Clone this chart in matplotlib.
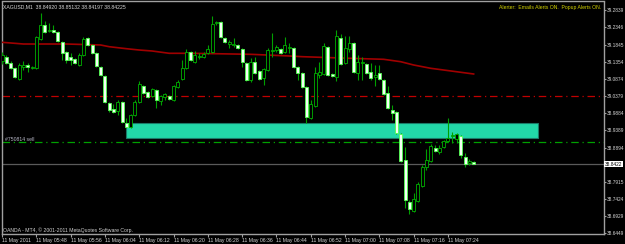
"""MT4-style XAGUSD M1 candlestick screenshot, rebuilt with matplotlib."""

import matplotlib

matplotlib.use("Agg")

import matplotlib.pyplot as plt  # noqa: E402
from matplotlib.patches import Rectangle  # noqa: E402

# OHLC for each one-minute bar, 05:40 .. 07:30
OPEN = [
    39.1378, 39.1493, 39.1321, 39.1178, 39.0863, 39.1206, 39.1264, 39.1178, 39.1178, 39.2009,
    39.2410, 39.2238, 39.2267, 39.2209, 39.1923, 39.1636, 39.1493, 39.1436, 39.1264, 39.1550,
    39.2037, 39.1837, 39.1608, 39.1206, 39.0949, 39.0175, 39.0003, 38.9946, 39.0204, 38.9602,
    38.9487, 38.9831, 39.0204, 39.0662, 39.0490, 39.0376, 39.0548, 39.0232, 39.0347, 39.0376,
    39.0261, 39.0633, 39.0863, 39.1178, 39.1636, 39.1350, 39.1493, 39.1493, 39.1608, 39.1636,
    39.2467, 39.2496, 39.2037, 39.1865, 39.1837, 39.1837, 39.1722, 39.1321, 39.0834, 39.1350,
    39.1092, 39.0891, 39.1121, 39.1665, 39.1693, 39.1722, 39.1636, 39.1751, 39.1751, 39.1206,
    39.1035, 39.0633, 38.9745, 39.0089, 39.0977, 39.1006, 39.1779, 39.1006, 39.0920, 39.2037,
    39.1321, 39.1722, 39.1894, 39.1035, 39.1321, 39.1292, 39.1063, 39.0920, 39.1035, 39.0834,
    39.0462, 38.9975, 38.9917, 38.9287, 38.8542, 38.7339, 38.7081, 38.7367, 38.7797, 38.8341,
    38.8513, 38.8886, 38.8771, 38.8914, 38.9086, 38.9230, 38.9144, 38.9230, 38.8628, 38.8456,
    38.84920,
]
HIGH = [
    39.1636, 39.1550, 39.1378, 39.1206, 39.1321, 39.1378, 39.1321, 39.1235, 39.2095, 39.2754,
    39.2524, 39.2467, 39.2410, 39.2238, 39.1951, 39.1665, 39.1608, 39.1464, 39.1608, 39.2066,
    39.2066, 39.1865, 39.1636, 39.1235, 39.0977, 39.0204, 39.0146, 39.0261, 39.0232, 38.9745,
    38.9860, 39.0261, 39.0805, 39.0691, 39.0519, 39.0605, 39.0576, 39.0404, 39.0462, 39.0404,
    39.0691, 39.0834, 39.1407, 39.1722, 39.1665, 39.1665, 39.1608, 39.1636, 39.1837, 39.2668,
    39.2524, 39.2524, 39.2066, 39.1980, 39.2037, 39.1865, 39.1751, 39.1350, 39.1464, 39.1493,
    39.1121, 39.1178, 39.1751, 39.2181, 39.1837, 39.1751, 39.2066, 39.1894, 39.1779, 39.1235,
    39.1063, 39.0662, 39.0261, 39.1206, 39.1350, 39.1894, 39.1808, 39.1035, 39.2267, 39.2152,
    39.2095, 39.2095, 39.1923, 39.1550, 39.1493, 39.1321, 39.1321, 39.1264, 39.1264, 39.0863,
    39.0662, 39.0118, 38.9946, 38.9316, 38.8914, 38.7396, 38.7597, 38.7912, 38.8399, 38.8857,
    38.9000, 38.8972, 38.8972, 38.9115, 38.9745, 38.9344, 38.9316, 38.9258, 38.8743, 38.8571,
    38.85132,
]
LOW = [
    39.1292, 39.1292, 39.1149, 39.0891, 39.0834, 39.1121, 39.1063, 39.1149, 39.1149, 39.1980,
    39.2181, 39.2209, 39.2181, 39.1923, 39.1407, 39.1321, 39.1264, 39.1292, 39.1235, 39.1522,
    39.1808, 39.1579, 39.1206, 39.0949, 39.0175, 38.9917, 38.9889, 38.9831, 38.9602, 38.9459,
    38.9459, 38.9803, 39.0175, 39.0433, 39.0318, 39.0347, 39.0032, 39.0118, 39.0261, 39.0261,
    39.0232, 39.0605, 39.0834, 39.1149, 39.1378, 39.1321, 39.1436, 39.1464, 39.1579, 39.1608,
    39.2410, 39.2037, 39.1894, 39.1751, 39.1779, 39.1722, 39.1206, 39.0805, 39.0777, 39.1006,
    39.0834, 39.0691, 39.1092, 39.1493, 39.1636, 39.1579, 39.1608, 39.1608, 39.1178, 39.0834,
    39.0605, 38.9602, 38.9717, 39.0060, 39.0891, 39.0977, 39.0949, 39.0920, 39.0805, 39.1264,
    39.1292, 39.1636, 39.1035, 39.0834, 39.0834, 39.1006, 39.0834, 39.0662, 39.0834, 39.0404,
    39.0003, 38.9688, 38.9287, 38.8485, 38.7167, 38.6995, 38.7052, 38.7339, 38.7768, 38.8256,
    38.8485, 38.8771, 38.8714, 38.8886, 38.9058, 38.9029, 38.9029, 38.8599, 38.8341, 38.8399,
    38.84197,
]
CLOSE = [
    39.1550, 39.1321, 39.1178, 39.0920, 39.1264, 39.1264, 39.1206, 39.1206, 39.2066, 39.2410,
    39.2209, 39.2267, 39.2209, 39.1951, 39.1608, 39.1407, 39.1407, 39.1321, 39.1550, 39.2009,
    39.1837, 39.1608, 39.1235, 39.0977, 39.0204, 38.9975, 38.9917, 39.0204, 38.9631, 38.9487,
    38.9831, 39.0204, 39.0719, 39.0462, 39.0347, 39.0576, 39.0261, 39.0376, 39.0433, 39.0290,
    39.0662, 39.0777, 39.1178, 39.1636, 39.1407, 39.1550, 39.1522, 39.1579, 39.1722, 39.2438,
    39.2496, 39.2066, 39.1923, 39.1923, 39.1865, 39.1751, 39.1350, 39.0834, 39.1350, 39.1035,
    39.0863, 39.1149, 39.1693, 39.1693, 39.1779, 39.1608, 39.1837, 39.1779, 39.1206, 39.1035,
    39.0633, 38.9774, 39.0146, 39.1035, 39.1063, 39.1808, 39.0977, 39.0949, 39.2095, 39.1292,
    39.1751, 39.1894, 39.1063, 39.1350, 39.1350, 39.1035, 39.0891, 39.0977, 39.0863, 39.0433,
    39.0032, 38.9889, 38.9316, 38.8513, 38.7396, 38.7138, 38.7425, 38.7854, 38.8341, 38.8542,
    38.8943, 38.8800, 38.8886, 38.9086, 38.9172, 38.9258, 38.9287, 38.8685, 38.8427, 38.8513,
    38.84225,
]

# moving average (dark red), read at a handful of bars
MA_BARS = [0, 3, 5, 15, 23, 25, 29, 32, 35, 39, 44, 58, 67, 70, 81, 89, 93, 96, 100, 107, 110]
MA_PRICE = [
    39.1914, 39.1885, 39.1865, 39.1865, 39.1837, 39.1788, 39.1731, 39.1693, 39.1665, 39.1599,
    39.1599, 39.1570, 39.1522, 39.1502, 39.1456, 39.1427, 39.1358, 39.1264, 39.1169, 39.1055,
    39.1006,
]

TIME_LABELS = [
    "11 May 2011", "11 May 05:48", "11 May 05:56", "11 May 06:04", "11 May 06:12",
    "11 May 06:20", "11 May 06:28", "11 May 06:36", "11 May 06:44", "11 May 06:52",
    "11 May 07:00", "11 May 07:08", "11 May 07:16", "11 May 07:24",
]
PRICE_TICKS = [
    39.2839, 39.2346, 39.1845, 39.1354, 39.0874, 39.0379, 38.9884, 38.9389, 38.8894,
    38.7915, 38.7424, 38.6929, 38.6449,
]

BID = 38.8422
ORDER_PRICE = 38.9049
LEVEL_PRICE = 39.0367
ZONE_TOP = 38.9602
ZONE_BOTTOM = 38.9164
ZONE_START = 29
ZONE_END = 125

FONT = ["Liberation Sans", "DejaVu Sans"]
FS = 3.7
FS_PRICE = 3.4
W, H = 625, 244


def main() -> None:
    fig = plt.figure(figsize=(W / 100, H / 100), dpi=100, facecolor="black")
    ax = fig.add_axes([2 / W, 10 / H, 602 / W, 232.5 / H])
    ax.set_facecolor("black")
    ax.set_xlim(0.07, 140.4)
    ax.set_ylim(38.6422, 39.3083)

    # supply zone rectangle (behind the bars)
    ax.add_patch(Rectangle((ZONE_START, ZONE_BOTTOM), ZONE_END - ZONE_START,
                           ZONE_TOP - ZONE_BOTTOM, facecolor="#22D8A8",
                           edgecolor="#1B7A68", linewidth=0.8, zorder=1))

    ax.axhline(LEVEL_PRICE, color="#C00000", linewidth=0.9,
               linestyle=(0, (6, 3, 1, 3)), zorder=2)
    ax.axhline(ORDER_PRICE, color="#00A000", linewidth=0.9,
               linestyle=(0, (6, 3, 1, 3)), zorder=2)
    ax.axhline(BID, color="#5A5A5A", linewidth=0.9, zorder=2)
    ax.plot(MA_BARS, MA_PRICE, color="#A00000", linewidth=1.2, zorder=3)

    idx = list(range(len(OPEN)))
    ax.vlines(idx, LOW, HIGH, color="#00A000", linewidth=0.8, zorder=4)
    for i, o, c in zip(idx, OPEN, CLOSE):
        bottom = min(o, c)
        height = max(abs(c - o), 0.0025)
        if c >= o:
            face, edge = "black", "#00B000"
        else:
            face, edge = "#F4FFF4", "#50FF50"
        ax.bar(i, height, bottom=bottom, width=0.7, color=face,
               edgecolor=edge, linewidth=0.6, zorder=5)

    # frame and axes
    for side in ("left", "top", "right", "bottom"):
        ax.spines[side].set_color("#A0A0A0")
        ax.spines[side].set_linewidth(1.0)
    ax.yaxis.tick_right()
    ax.set_yticks(PRICE_TICKS, [f"{p:.4f}" for p in PRICE_TICKS])
    ax.set_xticks(list(range(0, 8 * len(TIME_LABELS), 8)), TIME_LABELS)
    ax.tick_params(axis="x", colors="#A0A0A0", length=2, width=0.8,
                   labelcolor="#D8D8D8", labelsize=FS, pad=1)
    ax.tick_params(axis="y", colors="#A0A0A0", length=1.5, width=0.8,
                   labelcolor="#D8D8D8", labelsize=FS_PRICE, pad=0.6)
    for lbl in ax.get_xticklabels():
        lbl.set_horizontalalignment("left")
        lbl.set_family(FONT)
    for lbl in ax.get_yticklabels():
        lbl.set_family(FONT)

    ax.text(1.002, BID, "38.8422", transform=ax.get_yaxis_transform(),
            fontsize=FS_PRICE, family=FONT, color="black", va="center", ha="left",
            bbox=dict(facecolor="white", edgecolor="none", pad=0.5), zorder=10)
    ax.text(0.8, ORDER_PRICE + 0.002, "#750814 sell", fontsize=FS, family=FONT,
            color="#B8B8C8", va="bottom", ha="left", zorder=6)

    fig.text(3 / W, 1 - 6.5 / H,
             "XAGUSD,M1  38.84920 38.85132 38.84197 38.84225",
             fontsize=FS, family=FONT, color="#D8D8D8", va="center", ha="left")
    fig.text(601 / W, 1 - 7.5 / H,
             "Alerter:  Emails Alerts ON.  Popup Alerts ON.",
             fontsize=FS, family=FONT, color="#D4D400", va="center", ha="right")
    fig.text(3 / W, 1 - 230 / H,
             "OANDA - MT4, \u00a9 2001-2011 MetaQuotes Software Corp.",
             fontsize=FS, family=FONT, color="#D0D0D0", va="center", ha="left")

    fig.savefig("out.png", dpi=100, facecolor="black")
    plt.close(fig)


if __name__ == "__main__":
    main()
